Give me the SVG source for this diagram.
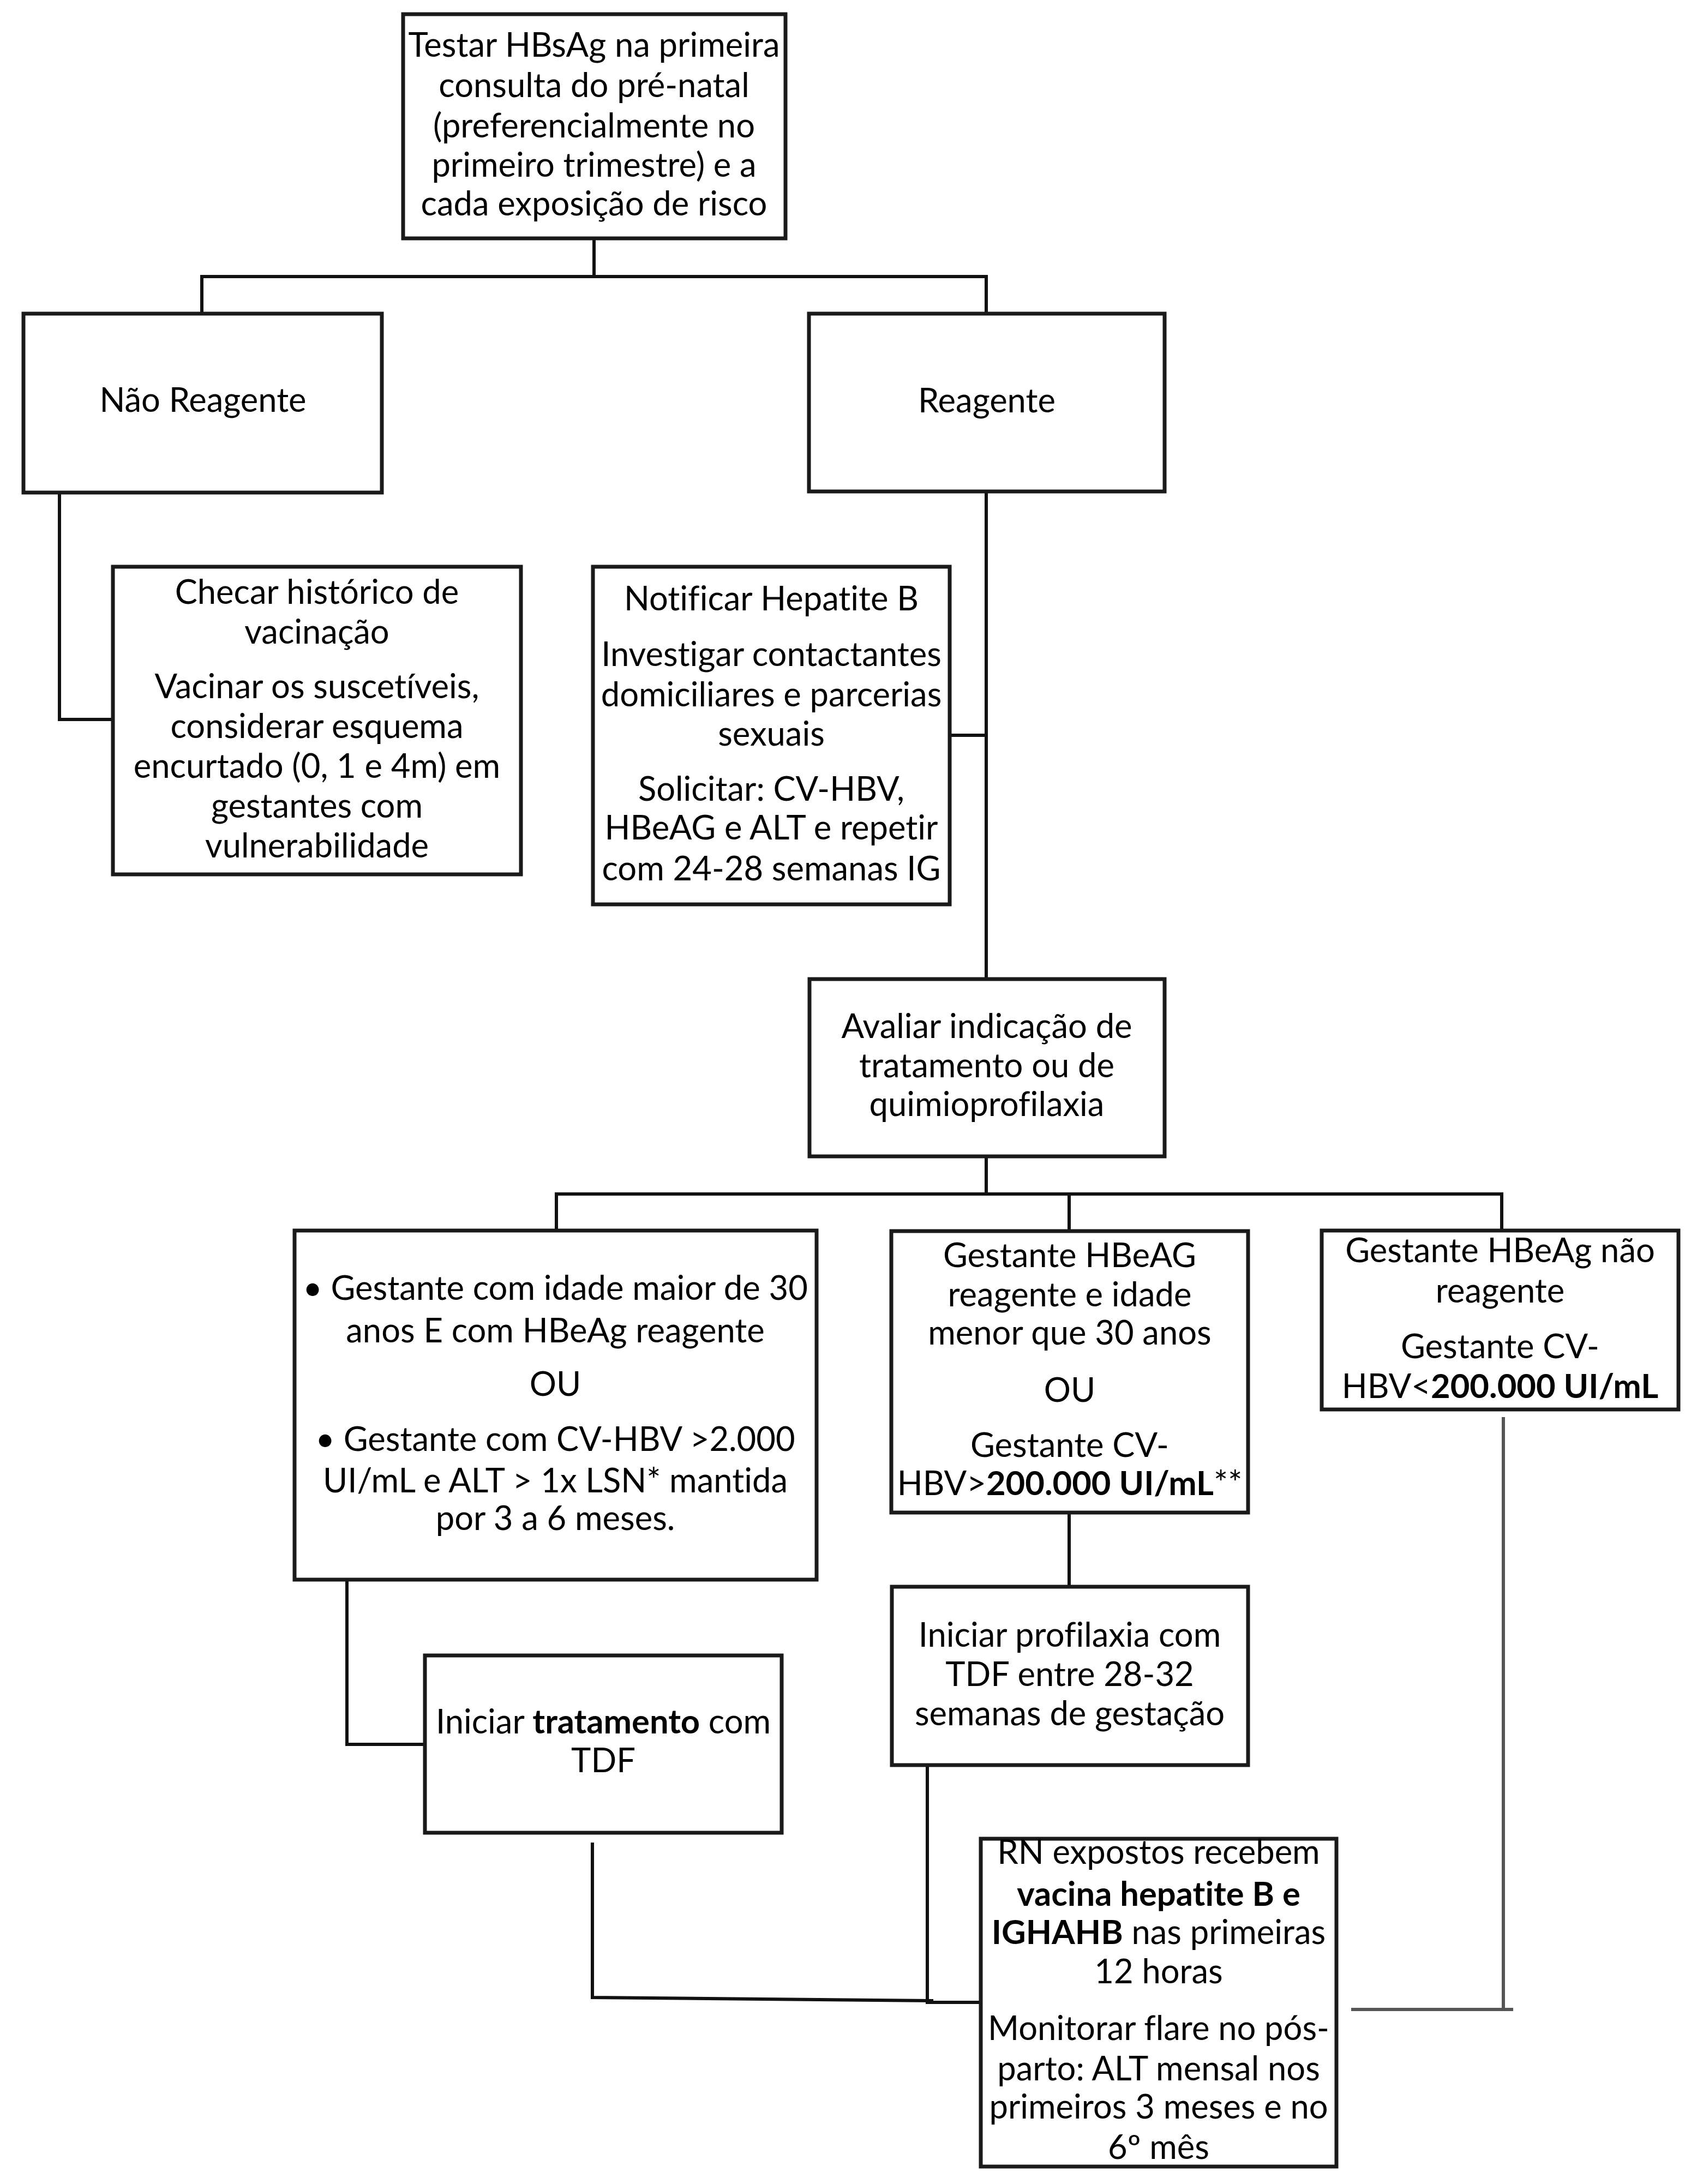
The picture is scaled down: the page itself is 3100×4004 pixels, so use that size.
<svg xmlns="http://www.w3.org/2000/svg" width="3100" height="4004" viewBox="0 0 3100 4004">
<style>
.box{fill:#fff;stroke:#1a1a1a;stroke-width:7}
.c{fill:none;stroke:#111;stroke-width:6}
.g{fill:none;stroke:#555;stroke-width:6}
text{font-family:Lato,"Open Sans","Liberation Sans",sans-serif;font-size:61.5px;fill:#000;text-anchor:middle;font-variant-ligatures:none;font-feature-settings:"liga" 0}
.b{font-weight:bold}
</style>
<rect width="3100" height="4004" fill="#fff"/>
<g id="connectors">
<path class="c" d="M1089,437 V507 M370,575 V507 H1808 V575"/>
<path class="c" d="M109,903 V1319 H207"/>
<path class="c" d="M1808,901 V1795 M1741,1348 H1808"/>
<path class="c" d="M1808,2120 V2189 M1020,2256 V2189 H2753 V2256 M1960,2189 V2257"/>
<path class="c" d="M1960,2773 V2909"/>
<path class="c" d="M636,2896 V3198 H779"/>
<path class="c" d="M1086,3378 V3662 L1711,3668"/>
<path class="c" d="M1700,3236 V3671 H1798"/>
<path class="g" d="M2756,2598 V3684 M2477,3684 H2774"/>
</g>
<g id="n_top">
<rect class="box" x="739" y="26" width="701" height="411"/>
<text x="1089" y="104">Testar HBsAg na primeira</text>
<text x="1089" y="178">consulta do pré-natal</text>
<text x="1089" y="252">(preferencialmente no</text>
<text x="1089" y="324">primeiro trimestre) e a</text>
<text x="1089" y="395">cada exposição de risco</text>
</g>
<g id="n_nao">
<rect class="box" x="43" y="575" width="657" height="328"/>
<text x="372" y="755">Não Reagente</text>
</g>
<g id="n_reag">
<rect class="box" x="1483" y="575" width="652" height="326"/>
<text x="1809" y="756">Reagente</text>
</g>
<g id="n_checar">
<rect class="box" x="207" y="1039" width="748" height="564"/>
<text x="581" y="1107">Checar histórico de</text>
<text x="581" y="1180">vacinação</text>
<text x="581" y="1280">Vacinar os suscetíveis,</text>
<text x="581" y="1353">considerar esquema</text>
<text x="581" y="1426">encurtado (0, 1 e 4m) em</text>
<text x="581" y="1499">gestantes com</text>
<text x="581" y="1572">vulnerabilidade</text>
</g>
<g id="n_notificar">
<rect class="box" x="1087" y="1039" width="654" height="619"/>
<text x="1414" y="1119">Notificar Hepatite B</text>
<text x="1414" y="1221">Investigar contactantes</text>
<text x="1414" y="1295">domiciliares e parcerias</text>
<text x="1414" y="1367">sexuais</text>
<text x="1414" y="1468">Solicitar: CV-HBV,</text>
<text x="1414" y="1539">HBeAG e ALT e repetir</text>
<text x="1414" y="1614">com 24-28 semanas IG</text>
</g>
<g id="n_avaliar">
<rect class="box" x="1484" y="1795" width="651" height="325"/>
<text x="1809" y="1903">Avaliar indicação de</text>
<text x="1809" y="1975">tratamento ou de</text>
<text x="1809" y="2046">quimioprofilaxia</text>
</g>
<g id="n_maior30">
<rect class="box" x="540" y="2256" width="957" height="640"/>
<text x="1018" y="2383">• Gestante com idade maior de 30</text>
<text x="1018" y="2461">anos E com HBeAg reagente</text>
<text x="1018" y="2559">OU</text>
<text x="1018" y="2660">• Gestante com CV-HBV &gt;2.000</text>
<text x="1018" y="2736">UI/mL e ALT &gt; 1x LSN* mantida</text>
<text x="1018" y="2805">por 3 a 6 meses.</text>
</g>
<g id="n_menor30">
<rect class="box" x="1634" y="2257" width="654" height="516"/>
<text x="1961" y="2323">Gestante HBeAG</text>
<text x="1961" y="2395">reagente e idade</text>
<text x="1961" y="2465">menor que 30 anos</text>
<text x="1961" y="2570">OU</text>
<text x="1961" y="2671">Gestante CV-</text>
<text x="1961" y="2741">HBV&gt;<tspan class="b">200.000 UI/mL</tspan>**</text>
</g>
<g id="n_naoreag">
<rect class="box" x="2423" y="2256" width="654" height="328"/>
<text x="2750" y="2314">Gestante HBeAg não</text>
<text x="2750" y="2388">reagente</text>
<text x="2750" y="2490">Gestante CV-</text>
<text x="2750" y="2563">HBV&lt;<tspan class="b">200.000 UI/mL</tspan></text>
</g>
<g id="n_tratamento">
<rect class="box" x="779" y="3035" width="654" height="325"/>
<text x="1106" y="3178">Iniciar <tspan class="b">tratamento</tspan> com</text>
<text x="1106" y="3249">TDF</text>
</g>
<g id="n_profilaxia">
<rect class="box" x="1635" y="2909" width="653" height="327"/>
<text x="1961" y="3019">Iniciar profilaxia com</text>
<text x="1961" y="3091">TDF entre 28-32</text>
<text x="1961" y="3163">semanas de gestação</text>
</g>
<g id="n_rn">
<rect class="box" x="1798" y="3371" width="652" height="601"/>
<text x="2124" y="3417">RN expostos recebem</text>
<text x="2124" y="3494" class="b">vacina hepatite B e</text>
<text x="2124" y="3564"><tspan class="b">IGHAHB</tspan> nas primeiras</text>
<text x="2124" y="3636">12 horas</text>
<text x="2124" y="3740">Monitorar flare no pós-</text>
<text x="2124" y="3814">parto: ALT mensal nos</text>
<text x="2124" y="3884">primeiros 3 meses e no</text>
<text x="2124" y="3958">6º mês</text>
</g>
</svg>
